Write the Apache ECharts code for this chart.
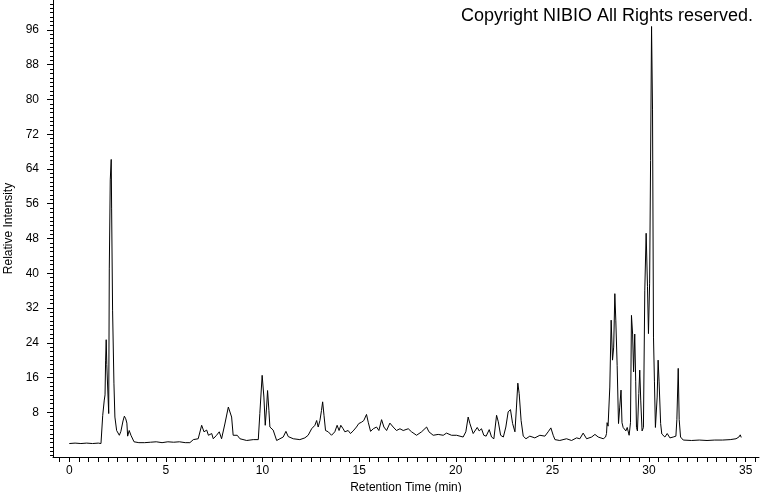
<!DOCTYPE html>
<html>
<head>
<meta charset="utf-8">
<script src="https://cdn.jsdelivr.net/npm/echarts@6/dist/echarts.min.js"></script>
<style>html,body{margin:0;padding:0;background:#fff}#c{width:760px;height:492px}</style>
</head>
<body>
<div id="c"></div>
<script>
// Retention time (min)
var times = [0.00,0.30,0.60,0.90,1.20,1.50,1.64,1.73,1.81,1.85,1.88,1.91,1.94,1.97,2.04,2.07,2.12,2.17,2.19,2.24,2.31,2.36,2.45,2.59,2.67,2.78,2.85,2.92,2.98,3.02,3.10,3.19,3.35,3.6,3.9,4.2,4.5,4.8,5.1,5.4,5.7,6.0,6.24,6.42,6.67,6.85,6.97,7.11,7.20,7.37,7.45,7.62,7.76,7.88,8.05,8.23,8.31,8.40,8.48,8.69,8.83,9.18,9.52,9.78,9.86,9.98,10.07,10.14,10.21,10.26,10.33,10.38,10.55,10.73,10.90,11.07,11.21,11.33,11.59,11.93,12.19,12.36,12.54,12.71,12.80,12.88,12.97,13.05,13.11,13.18,13.26,13.40,13.57,13.74,13.86,13.96,14.05,14.17,14.26,14.43,14.55,14.69,14.86,14.98,15.12,15.24,15.38,15.47,15.59,15.73,15.90,16.02,16.16,16.28,16.42,16.59,16.76,16.93,17.11,17.28,17.54,17.71,17.97,18.23,18.49,18.61,18.83,19.09,19.35,19.52,19.78,20.04,20.38,20.52,20.64,20.73,20.90,21.11,21.21,21.33,21.45,21.57,21.73,21.85,21.97,22.11,22.20,22.32,22.46,22.59,22.71,22.83,22.94,23.06,23.14,23.21,23.28,23.38,23.49,23.63,23.83,24.09,24.35,24.61,24.78,24.92,25.04,25.13,25.38,25.73,25.99,26.25,26.42,26.59,26.77,27.03,27.20,27.37,27.63,27.75,27.80,27.83,27.88,27.97,28.04,28.11,28.17,28.23,28.28,28.35,28.42,28.48,28.55,28.60,28.66,28.80,28.87,28.97,29.04,29.09,29.15,29.20,29.26,29.31,29.35,29.40,29.47,29.52,29.57,29.64,29.71,29.78,29.85,29.92,29.97,30.03,30.08,30.13,30.18,30.23,30.28,30.33,30.42,30.47,30.52,30.60,30.66,30.82,30.94,31.08,31.25,31.39,31.44,31.51,31.56,31.63,31.77,32.2,32.6,33.0,33.4,33.8,34.2,34.5,34.65,34.72,34.77];
// Relative intensity
var intensity = [0.8,0.9,0.8,0.9,0.8,0.9,0.8,7.3,10.8,12,20,24.7,19,18.8,7.7,41,61.5,66.2,55,31.5,14.7,6.9,3.8,2.7,3.6,6.0,7.1,6.5,5.5,2.5,3.8,2.7,1.2,1.0,1.0,1.1,1.2,1.0,1.2,1.1,1.2,1.0,1.0,1.7,1.9,5.0,3.5,3.9,2.7,3.1,1.9,2.7,3.5,1.9,5.3,9.2,9.6,6.9,2.7,2.7,1.9,1.5,1.7,1.7,7.7,16.5,11.5,5.0,9.2,13,8.4,4.6,3.9,1.5,1.9,2.3,3.6,2.4,1.9,1.7,2.1,2.7,4.2,5.0,6.1,4.6,6.1,8.4,10.4,7.3,3.8,3.5,2.7,3.5,5.0,3.8,5.0,4.2,3.5,3.8,3.1,3.7,4.6,5.4,5.7,6.1,7.5,5.7,3.6,4.2,4.6,3.8,6.3,4.6,3.8,5.5,4.6,3.8,4.2,3.8,4.2,3.5,2.7,3.5,4.6,3.5,2.7,2.9,2.7,3.2,2.7,2.7,2.3,3.5,6.9,5.4,3.1,4.5,3.7,4.2,2.7,2.5,4.0,2.3,1.9,7.3,5.8,2.7,2.3,4.6,8.1,8.6,5.4,3.5,9.2,14.7,12.3,6.1,2.5,1.9,2.5,2.1,2.7,2.5,3.5,4.4,2.7,1.7,1.5,1.9,1.5,2.1,1.9,3.2,1.9,2.3,2.9,2.3,1.9,2.3,3.1,5.6,4.8,13.8,29.2,20,23,35.3,29.2,18.8,5.4,9,13.1,5.6,4.5,3.7,4.5,2.7,5.6,30.3,26,17.3,26,15.0,4.5,3.7,12.3,17.7,10.8,3.7,4.5,36.1,49.2,36.9,26.1,37.7,66,96.8,77.6,25.3,15,4.5,11.5,20,15,5.4,3.0,2.3,3.1,2.1,2.3,2.5,6.3,18.1,6.3,2.3,1.6,1.5,1.6,1.5,1.6,1.6,1.7,1.9,2.3,2.8,2.2];
// Tick labels
var xTickLabels = [0,5,10,15,20,25,30,35];
var yTickLabels = [8,16,24,32,40,48,56,64,72,80,88,96];

var xMinorTicks = [];
for (var i = -1; i <= 71; i++) xMinorTicks.push(i * 0.5);
var yMinorTicks = [];
for (var j = -2; j <= 102; j++) yMinorTicks.push(j);

var points = times.map(function (t, k) { return [t, intensity[k]]; });

var FONT = 'Liberation Sans, Arial, sans-serif';
var chart = echarts.init(document.getElementById('c'), null, {renderer: 'canvas'});
chart.setOption({
  animation: false,
  backgroundColor: '#fff',
  title: {
    text: 'Copyright NIBIO All Rights reserved.',
    right: 2, top: 2,
    textStyle: {fontFamily: FONT, fontSize: 18, fontWeight: 'normal', color: '#000'}
  },
  grid: {left: 53, right: 1, top: 0, bottom: 35, containLabel: false, outerBoundsMode: 'none'},
  xAxis: [{
    type: 'value', min: -0.843, max: 35.69,
    name: 'Retention Time (min)', nameLocation: 'middle', nameGap: 23,
    nameTextStyle: {fontFamily: FONT, fontSize: 12, color: '#000'},
    axisLine: {onZero: false, lineStyle: {color: '#000', width: 1}},
    axisTick: {customValues: xMinorTicks, length: 5, lineStyle: {color: '#000'}},
    axisLabel: {customValues: xTickLabels, color: '#000', fontFamily: FONT, fontSize: 12, margin: 8},
    splitLine: {show: false}
  }],
  yAxis: [{
    type: 'value', min: -2.3, max: 102.9, position: 'left', offset: 0,
    name: 'Relative Intensity', nameLocation: 'middle', nameGap: 38,
    nameTextStyle: {fontFamily: FONT, fontSize: 12, color: '#000'},
    axisLine: {onZero: false, show: true, lineStyle: {color: '#000', width: 1}},
    axisTick: {customValues: yTickLabels, length: 6, lineStyle: {color: '#000'}},
    axisLabel: {customValues: yTickLabels, color: '#000', fontFamily: FONT, fontSize: 12, margin: 14},
    splitLine: {show: false}
  }, {
    type: 'value', min: -2.3, max: 102.9, position: 'left', offset: 0,
    axisLine: {show: false, onZero: false},
    axisTick: {show: true, inside: false, customValues: yMinorTicks, length: 3, lineStyle: {color: '#000'}},
    axisLabel: {show: false},
    splitLine: {show: false}
  }],
  series: [{
    type: 'line', data: points, xAxisIndex: 0, yAxisIndex: 0,
    showSymbol: false, symbol: 'none',
    lineStyle: {color: '#000', width: 1},
    silent: true
  }]
});
</script>
</body>
</html>
